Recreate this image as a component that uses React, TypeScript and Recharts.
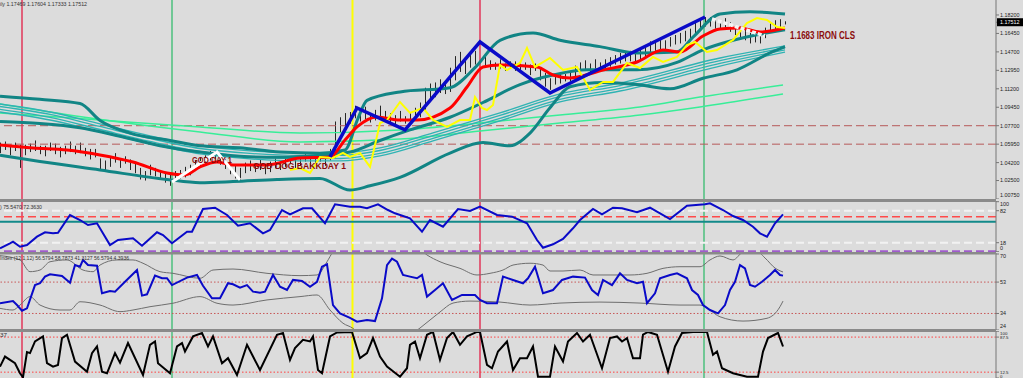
import React from "react";
import {
  ComposedChart,
  Line,
  Bar,
  XAxis,
  YAxis,
  ReferenceLine,
  ReferenceDot,
} from "recharts";

type Pair = [number, number];

// ---------- main window (daily bars) ----------
const candleHigh = [
  1.061, 1.062, 1.059, 1.061, 1.059, 1.059, 1.06, 1.063, 1.058, 1.058,
  1.061, 1.06, 1.057, 1.058, 1.062, 1.058, 1.061, 1.056, 1.055, 1.055,
  1.046, 1.044, 1.047, 1.051, 1.046, 1.048, 1.045, 1.042, 1.037, 1.034,
  1.04, 1.037, 1.035, 1.032, 1.031, 1.034, 1.035, 1.038, 1.04, 1.044,
  1.047, 1.049, 1.053, 1.054, 1.049, 1.045, 1.043, 1.04, 1.037, 1.042,
  1.044, 1.041, 1.045, 1.039, 1.043, 1.046, 1.043, 1.047, 1.048, 1.045,
  1.048, 1.05, 1.047, 1.048, 1.052, 1.046, 1.055, 1.081, 1.085, 1.089,
  1.09, 1.096, 1.091, 1.095, 1.089, 1.092, 1.096, 1.091, 1.089, 1.087,
  1.091, 1.086, 1.089, 1.094, 1.099, 1.113, 1.117, 1.118, 1.121, 1.119,
  1.132, 1.143, 1.147, 1.141, 1.147, 1.148, 1.153, 1.143, 1.139, 1.137,
  1.14, 1.136, 1.138, 1.138, 1.136, 1.137, 1.135, 1.136, 1.132, 1.127,
  1.122, 1.125, 1.126, 1.126, 1.129, 1.134, 1.137, 1.139, 1.136, 1.14,
  1.137, 1.14, 1.142, 1.144, 1.146, 1.146, 1.148, 1.146, 1.15, 1.152,
  1.157, 1.157, 1.16, 1.158, 1.161, 1.163, 1.165, 1.167, 1.169, 1.175,
  1.178, 1.18, 1.18, 1.178, 1.176, 1.179, 1.175, 1.172, 1.171, 1.168,
  1.165, 1.166, 1.162, 1.17, 1.174, 1.177, 1.178, 1.176,
];
const candleLow = [
  1.051, 1.054, 1.049, 1.053, 1.037, 1.049, 1.052, 1.053, 1.05, 1.048,
  1.053, 1.05, 1.047, 1.05, 1.052, 1.05, 1.051, 1.048, 1.045, 1.047,
  1.035, 1.034, 1.038, 1.042, 1.037, 1.041, 1.035, 1.032, 1.026, 1.025,
  1.03, 1.029, 1.026, 1.023, 1.02, 1.025, 1.027, 1.028, 1.03, 1.034,
  1.038, 1.04, 1.044, 1.045, 1.04, 1.036, 1.031, 1.027, 1.024, 1.032,
  1.034, 1.033, 1.035, 1.031, 1.033, 1.037, 1.035, 1.038, 1.041, 1.036,
  1.039, 1.043, 1.038, 1.041, 1.043, 1.039, 1.044, 1.046, 1.07, 1.076,
  1.079, 1.084, 1.081, 1.083, 1.08, 1.082, 1.084, 1.081, 1.08, 1.078,
  1.081, 1.079, 1.08, 1.082, 1.085, 1.09, 1.101, 1.104, 1.108, 1.107,
  1.109, 1.12, 1.128, 1.126, 1.132, 1.135, 1.137, 1.132, 1.13, 1.13,
  1.131, 1.129, 1.131, 1.129, 1.128, 1.13, 1.125, 1.129, 1.12, 1.114,
  1.111, 1.116, 1.117, 1.119, 1.119, 1.122, 1.126, 1.13, 1.127, 1.131,
  1.13, 1.131, 1.133, 1.135, 1.136, 1.138, 1.138, 1.138, 1.14, 1.142,
  1.146, 1.148, 1.149, 1.149, 1.152, 1.154, 1.155, 1.157, 1.159, 1.164,
  1.167, 1.171, 1.171, 1.169, 1.169, 1.17, 1.166, 1.163, 1.161, 1.158,
  1.155, 1.156, 1.155, 1.16, 1.165, 1.168, 1.169, 1.173,
];

const upperBand: Pair[] = [
  [0, 1.105], [8, 1.102], [16, 1.098], [20, 1.082], [26, 1.07], [34, 1.063],
  [40, 1.058], [48, 1.056], [56, 1.052], [64, 1.051], [69, 1.054], [71.6, 1.084],
  [73.4, 1.101], [80, 1.109], [90, 1.113], [95, 1.132], [100, 1.158], [106.6, 1.165],
  [112, 1.158], [120, 1.152], [127.4, 1.146], [135.4, 1.147], [138.6, 1.161],
  [144, 1.183], [150, 1.185], [157, 1.183],
];
const midTeal: Pair[] = [
  [0, 1.081], [8, 1.079], [16, 1.075], [24, 1.067], [32, 1.058], [40, 1.052],
  [48, 1.048], [56, 1.047], [64, 1.049], [70, 1.052], [76, 1.063], [82, 1.073],
  [90, 1.085], [96.6, 1.099], [104, 1.116], [110.6, 1.125], [117.4, 1.13],
  [127.4, 1.13], [135.4, 1.137], [140.6, 1.149], [146.6, 1.158], [157, 1.168],
];
const lowerBand: Pair[] = [
  [0, 1.049], [8, 1.043], [20, 1.035], [33.4, 1.026], [40, 1.023], [46.6, 1.024],
  [55.4, 1.026], [64, 1.027], [70, 1.016], [74, 1.02], [80, 1.028], [90, 1.051],
  [96.6, 1.061], [102, 1.058], [106, 1.07], [110, 1.094], [114, 1.114], [120.6, 1.118],
  [127.4, 1.116], [134, 1.112], [140.6, 1.122], [147.4, 1.13], [154, 1.146], [157, 1.152],
];

// bundle of slow averages
const bundleBars = [0, 10, 20, 30, 40, 50, 60, 68, 76, 86.6, 100, 112, 124, 144, 157];
const maSlow1 = [1.0976, 1.09, 1.0787, 1.0673, 1.0578, 1.0531, 1.0512, 1.0512, 1.0559, 1.0701, 1.0891, 1.1071, 1.1175, 1.1412, 1.1526];
const maSlow2 = [1.0952, 1.0877, 1.0763, 1.0649, 1.0554, 1.0507, 1.0488, 1.0488, 1.0535, 1.0677, 1.0867, 1.1047, 1.1151, 1.1388, 1.1507];
const maSlow3 = [1.0924, 1.0848, 1.0734, 1.0621, 1.0526, 1.0478, 1.0459, 1.0459, 1.0507, 1.0649, 1.0839, 1.1019, 1.1123, 1.136, 1.1488];
const maSlow4 = [1.09, 1.0824, 1.0711, 1.0597, 1.0502, 1.0455, 1.0436, 1.0436, 1.0483, 1.0625, 1.0815, 1.0995, 1.1099, 1.1336, 1.1469];

const greenABars = [0, 20, 40, 60, 80, 96, 112, 128, 140, 156.6];
const greenA = [1.0891, 1.0824, 1.0758, 1.0701, 1.073, 1.0796, 1.0872, 1.0948, 1.1042, 1.1156];
const greenBBars = [0, 16.6, 40, 60, 80, 96, 112, 128, 140, 156.6];
const greenB = [1.0976, 1.0853, 1.0711, 1.0616, 1.0644, 1.072, 1.0796, 1.0872, 1.0948, 1.1071];

const fastMA: Pair[] = [
  [0, 1.0587], [6.6, 1.0559], [13.4, 1.054], [20, 1.0493], [26.6, 1.0426], [33.4, 1.0322],
  [37, 1.0303], [40, 1.0379], [43.4, 1.0426], [46.6, 1.0398], [53.4, 1.0398], [60, 1.0464],
  [66, 1.0474], [69, 1.0635], [71.4, 1.0758], [75.4, 1.0853], [80, 1.0824], [83.4, 1.0824],
  [90, 1.0938], [93.4, 1.1137], [96.6, 1.1327], [100, 1.1346], [107.4, 1.1327],
  [110.6, 1.1251], [114, 1.1223], [120.6, 1.1298], [127.4, 1.1374], [132.6, 1.1488],
  [136, 1.1469], [140.6, 1.1621], [144, 1.1687], [148, 1.1697], [152, 1.1659], [157, 1.1697],
];
const yellowLine: Pair[] = [
  [58, 1.035], [60, 1.0369], [62, 1.0322], [64, 1.0474], [66.6, 1.0464], [68.6, 1.0512],
  [70, 1.0474], [72, 1.0512], [74, 1.0379], [76, 1.0796], [77.4, 1.0824], [80, 1.0995],
  [82, 1.0891], [84.6, 1.0938], [86.6, 1.0824], [89.4, 1.0758], [92, 1.0824], [94, 1.0824],
  [95, 1.1042], [96.4, 1.0938], [97.4, 1.0919], [98.6, 1.0967], [100, 1.1346], [101.4, 1.1298],
  [104, 1.1365], [105.4, 1.1507], [107, 1.1327], [110, 1.1412], [112.6, 1.1298], [115.4, 1.1327],
  [118, 1.1109], [120.6, 1.1185], [122.6, 1.1185], [125.4, 1.1365], [128, 1.1317], [130.6, 1.1422],
  [132.6, 1.1374], [135.4, 1.1422], [137.4, 1.1535], [139, 1.1564], [141.4, 1.1469], [143.4, 1.1488],
  [146.6, 1.1583], [149.4, 1.1744], [151.4, 1.1791], [153.4, 1.1772], [155.4, 1.1706], [157, 1.1697],
];
const zigzagBlue: Pair[] = [[66, 1.0474], [71.4, 1.0938], [81, 1.073], [96, 1.1564], [110, 1.108], [141, 1.1801]];
const zigzagWhite: Pair[] = [[34.4, 1.0237], [43.4, 1.0521], [48, 1.0256]];
const zigzagWhite2: Pair[] = [[142.4, 1.1782], [153, 1.1621]];

const priceTicks = [1.182, 1.1645, 1.147, 1.1295, 1.112, 1.0945, 1.077, 1.0595, 1.042, 1.025, 1.0075];
const lastPrice = 1.17512;
const priceLevels = [1.077, 1.0595];
const markerBars = [4.4, 34.4, 70.5, 96, 140.8];

// ---------- sub windows ----------
const stochLine: Pair[] = [
  [0, 6.8], [2, 16.8], [2.6, 20], [4, 10], [5.4, 13.4], [7.4, 30], [9, 38.8], [10.6, 36.8],
  [11.6, 38], [14, 73.4], [16, 63.4], [17.6, 53.4], [19.4, 56.8], [22, 13.4], [23.6, 23.4],
  [26.6, 26.8], [28.4, 12], [31.4, 38.8], [32.6, 33.4], [34.4, 16.8], [37.4, 40], [38.4, 40],
  [40.6, 85.4], [43, 88], [45.4, 73.4], [47.6, 52], [50, 56.8], [52.6, 36.8], [54, 43.4],
  [56.4, 83.4], [58, 74.8], [60.6, 86.8], [62.4, 86.8], [65, 56.8], [67, 94.8], [70, 90],
  [72, 90], [73.4, 86.8], [75.6, 94.8], [77.6, 83.4], [79, 76.8], [82, 66.8], [84.4, 40],
  [86, 63.4], [88.6, 50], [91.6, 85.4], [94, 81.4], [96, 90], [99.4, 73.4], [102.4, 70],
  [105.4, 56.8], [107.4, 23.4], [108.6, 8], [110.6, 14.8], [112.6, 25.4], [114.6, 46.8],
  [116, 63.4], [118.6, 85.4], [120.4, 74.8], [122.6, 88], [124.4, 86.8], [127.4, 78.8],
  [130, 88], [134, 65.4], [137.4, 92], [141, 94.8], [142, 96.8], [144.6, 83.4], [146.6, 71.4],
  [148.6, 63.4], [150.6, 50], [152, 36.8], [153.4, 30], [155, 56.8], [156.6, 74.8],
];
const stochTicks = [100, 82, 18, 0];

const rsiLine: Pair[] = [
  [0, 40.2], [2.6, 41.5], [3.4, 39.1], [4.4, 35.7], [5.4, 37.1], [7, 51.2], [8, 52.3], [9, 56.3],
  [10, 57.7], [12.4, 56.7], [14, 52.6], [15, 63.3], [16, 62.3], [16.6, 66.4], [17.6, 63.3],
  [19.4, 62.9], [20.4, 46.2], [22, 47.6], [23, 47.2], [25, 53.2], [27.4, 60.3], [28.4, 44.8],
  [29.4, 45.6], [31, 56.9], [32.4, 55.3], [33.4, 55.3], [34.4, 51.2], [37.4, 55.7], [39.4, 57.3],
  [40.6, 50.8], [42.4, 43.2], [44, 43.2], [45.6, 52.3], [46.6, 51.7], [48, 49.6], [49.4, 51.2],
  [50.6, 47.2], [52, 46.6], [53, 47.2], [54.6, 57.3], [56, 50.2], [57.4, 48.2], [58.6, 54.3],
  [60.4, 53.7], [62, 50.2], [63.4, 53.2], [64.4, 62.3], [65.4, 63.8], [66.6, 39.1], [68, 34.1],
  [70, 31.4], [71.4, 29], [73.4, 30], [75, 29.4], [76.4, 43.2], [77.4, 63.3], [78.4, 67.2],
  [79.4, 65.3], [80.6, 57.3], [82, 56.3], [83.4, 55.3], [84.4, 57.3], [85.4, 44.2], [87, 48.2],
  [88.6, 52.3], [90.4, 42.2], [92.4, 45.2], [95, 45.2], [96, 42.2], [97.4, 40.2], [99.4, 40.2],
  [100.6, 56.3], [102.6, 54.3], [104.6, 52.3], [105.6, 55.3], [107, 62.3], [108.6, 46.2],
  [110.6, 48.2], [112.4, 54.3], [114.6, 56.3], [117, 55.7], [118.4, 48.2], [119.6, 45.2],
  [120.6, 54.3], [122.4, 51.2], [124, 58.3], [125.4, 54.3], [127.4, 52.3], [128.6, 53.2],
  [129.4, 40.2], [131, 46.2], [132, 55.3], [134, 57.3], [135.4, 58.3], [137.4, 55.3],
  [138.4, 48.2], [139.6, 45.2], [140.6, 39.1], [142, 36.1], [143.6, 34.1], [145, 39.1],
  [146, 48.2], [147, 53.2], [148, 63.3], [149, 61.3], [150, 51.2], [151, 50.2], [152.4, 53.2],
  [154, 57.3], [155, 60.3], [156, 57.3], [156.6, 56.9],
];
const rsiUpper: Pair[] = [
  [0, 69], [4, 66.4], [6, 59.3], [8, 60.3], [10, 65.3], [13.4, 66.4], [16.6, 60.3], [18.6, 59.3],
  [20, 63.3], [23.4, 66.4], [26.6, 66.4], [28.6, 64.4], [32, 59.3], [34.6, 58.3], [40, 55.3],
  [42.6, 60.3], [46.6, 60.9], [53.4, 58.3], [60, 56.9], [63.4, 57.3], [65.4, 65.3], [66.6, 71.4],
  [68, 75.4], [72, 84.5], [75, 81.5], [77, 72.4], [80, 73.6], [84, 72.4], [85.4, 69.4], [88, 65.3],
  [92, 61.3], [95.4, 57.3], [98, 58.3], [100.6, 60.3], [102.6, 63.3], [106, 64.4], [108.6, 63.3],
  [110, 59.7], [112.6, 59.7], [116, 60.3], [118.6, 57.3], [122.6, 57.3], [126, 57.3], [129.4, 58.3],
  [132.6, 61.3], [136, 62.3], [140, 62.3], [142, 66.4], [144, 68.8], [146.6, 66.4], [148.6, 71.2],
  [151, 72.4], [153, 67.6], [155, 61.5], [156.6, 59.1],
];
const rsiLower: Pair[] = [
  [0, 37.1], [2.6, 36.1], [4, 39.1], [6, 44.2], [8, 39.1], [12, 36.1], [14, 36.1], [16, 41.1],
  [20, 39.1], [24, 35.1], [26.6, 36.1], [30, 38.1], [34.6, 40.2], [40, 44.2], [43.4, 40.2],
  [46.6, 39.1], [53.4, 42.2], [60, 44.2], [63.4, 45.2], [66, 36.1], [68.6, 28.1], [70.6, 25],
  [73, 17.9], [76, 14.9], [79, 17.9], [82, 21], [84, 25.2], [88, 34.9], [90.6, 40.3], [94, 41.5],
  [100, 40.9], [106, 39.1], [112, 40.3], [120, 40.9], [128, 40.3], [136, 39.1], [140, 39.1],
  [144, 32], [148.6, 29.4], [153.4, 31.1], [156, 38.1], [156.6, 41.5],
];
const rsiTicks = [70, 53, 34, 24];
const rsiLevels = [53, 34];

const oscLine: Pair[] = [
  [0, 24.3], [1, 45.8], [3, 31.6], [4, 10.1], [4.6, 1.5], [5.4, 55.3], [6, 53.2], [7, 78.1],
  [8.6, 88.9], [9.4, 31.6], [10.6, 24.3], [11.6, 28], [12.4, 85.4], [13.4, 92.5], [15, 35.1],
  [17.4, 13.5], [18.4, 53.2], [19.4, 67.4], [20.4, 13.5], [21.4, 10.1], [23, 53.2], [24, 32.9],
  [25.6, 74.7], [28.6, 6.4], [30, 71], [31, 78.1], [31.6, 31.6], [34, 10.1], [35.4, 67.4],
  [36.4, 74.7], [37, 56.6], [38.6, 88.9], [40.4, 96.2], [41.6, 67.4], [42.6, 88.9], [44.4, 31.6],
  [45.6, 42.4], [47.4, 6.4], [49.4, 71], [52, 17.2], [55.4, 92.5], [56.6, 96.2], [58, 38.7],
  [59, 63.9], [60.6, 81.8], [62, 78.1], [62.6, 88.9], [63.6, 17.2], [64.4, 10.1], [66, 88.9],
  [67.4, 97.5], [70.4, 98.5], [72, 42.4], [73.4, 53.2], [74.6, 85.4], [76, 45.8], [77.4, 24.3],
  [80, 2.8], [81.4, 20.9], [82, 71], [83, 78.1], [84, 42.4], [85.4, 92.5], [86.6, 98.5],
  [88, 38.7], [89.4, 85.4], [90.6, 98.5], [92, 71], [93.4, 88.9], [95.4, 98.5], [96, 98.5],
  [97.4, 28], [98.4, 20.9], [99.6, 56.6], [101.4, 78.1], [102.6, 17.2], [104, 42.4], [105.4, 42.4],
  [106.6, 67.4], [107.6, 2.8], [110, 2.8], [111, 67.4], [112.6, 35.1], [113.6, 78.1], [115.4, 96.2],
  [116.6, 78.1], [118, 92.5], [120.4, 20.9], [122, 85.4], [123.4, 88.9], [124.4, 78.1], [125.4, 85.4],
  [126.6, 42.4], [128, 42.4], [128.6, 92.5], [129.6, 98.5], [131.4, 92.5], [133.6, 13.5], [135, 67.4],
  [136.4, 96.2], [138.6, 98.5], [141.4, 98.5], [142.6, 49.5], [143.4, 56.6], [144.4, 20.9],
  [146.6, 10.1], [149.4, 2.8], [151.6, 2.8], [152.6, 56.6], [153.6, 85.4], [155.6, 96.2], [156.6, 67.4],
];
const oscTicks = [100, 87.5, 12.5, 0];
const oscLevels = [87.5, 12.5];

// ---------- helpers ----------
const W = 1023;
const X_DOMAIN: [number, number] = [0, 199.2];
const axisFont = "'Liberation Sans', Arial, sans-serif";
const labelFont = "'Liberation Sans Narrow', 'Liberation Sans', Arial, sans-serif";

const pts = (a: Pair[]) => a.map(([x, y]) => ({ x, y }));
const zipPts = (xs: number[], ys: number[]) => xs.map((x, i) => ({ x, y: ys[i] }));

const candles = candleHigh.map((h, i) => ({ x: i, hl: [candleLow[i], h] }));

const markerStyles = [
  { stroke: "#e0607a", w: 2 },
  { stroke: "#4cc07e", w: 1.5 },
  { stroke: "#ffff00", w: 2 },
  { stroke: "#e0607a", w: 2 },
  { stroke: "#4cc07e", w: 1.5 },
];

// tick labels are kept inside their window, like the terminal does
function axisTick(h: number, fmt: (v: number) => string, size = 5.4, pad = 3.5) {
  return (props: any) => {
    const { x, y, payload } = props;
    const v = payload.value as number;
    const cy = Math.min(Math.max(y, pad), h - pad);
    const base = cy + size * 0.36;
    if (v === lastPrice) {
      return (
        <g>
          <rect x={x - 3} y={cy - 4} width={28} height={8} fill="#000" />
          <text x={x} y={base} fontSize={size} fill="#fff" fontFamily={axisFont}>
            {fmt(v)}
          </text>
        </g>
      );
    }
    return (
      <text x={x} y={base} fontSize={size} fill="#222" fontFamily={axisFont}>
        {fmt(v)}
      </text>
    );
  };
}

// thin crisp vertical stroke for each daily bar
const CandleShape = (p: any) => {
  const { x, y, width, height } = p;
  const cx = Math.round(x + width / 2) + 0.5;
  return <line x1={cx} x2={cx} y1={y} y2={y + height} stroke="#262626" strokeWidth={1} />;
};

function markers() {
  return markerBars.map((b, i) => (
    <ReferenceLine
      key={`m${i}`}
      x={b}
      stroke={markerStyles[i].stroke}
      strokeWidth={markerStyles[i].w}
    />
  ));
}

const line = (data: any[], stroke: string, width: number, type: any = "monotone", extra: any = {}) => (
  <Line
    data={data}
    dataKey="y"
    type={type}
    stroke={stroke}
    strokeWidth={width}
    dot={false}
    activeDot={false}
    isAnimationActive={false}
    {...extra}
  />
);

function annotation(text: string, len: number, size: number) {
  return (p: any) => (
    <text
      x={p.cx}
      y={p.cy}
      fontSize={size}
      fontWeight="bold"
      fill="#8b0c0c"
      fontFamily={labelFont}
      textLength={len}
      lengthAdjust="spacingAndGlyphs"
    >
      {text}
    </text>
  );
}

const yAxisCommon = {
  orientation: "right" as const,
  width: 27,
  allowDataOverflow: true,
  interval: 0 as const,
  tickSize: 3,
  tickMargin: 1,
  stroke: "#777",
};

export default function App() {
  const mainH = 199;
  const p2H = 51;
  const p3H = 77;
  const p4H = 47;

  return (
    <div
      style={{
        position: "absolute",
        left: 0,
        top: 0,
        width: W,
        height: 378,
        background: "#dcdcdc",
        overflow: "hidden",
      }}
    >
      {/* main price window */}
      <div style={{ position: "absolute", left: 0, top: 0 }}>
        <ComposedChart width={W} height={mainH} data={candles} margin={{ top: 0, right: 0, bottom: 0, left: 0 }}>
          <XAxis type="number" dataKey="x" domain={X_DOMAIN} hide allowDataOverflow />
          <YAxis
            {...yAxisCommon}
            domain={[1.0075, 1.1962]}
            ticks={[...priceTicks, lastPrice]}
            tick={axisTick(mainH, (v) => v.toFixed(5))}
          />
          {markers()}
          {priceLevels.map((p) => (
            <ReferenceLine key={p} y={p} stroke="#b65a5a" strokeDasharray="8 4" strokeWidth={1} />
          ))}
          {line(zipPts(greenABars, greenA), "#38ee98", 1.5)}
          {line(zipPts(greenBBars, greenB), "#38ee98", 1.5)}
          {line(zipPts(bundleBars, maSlow1), "#2fb3b3", 1.3)}
          {line(zipPts(bundleBars, maSlow2), "#2fb3b3", 1.3)}
          {line(zipPts(bundleBars, maSlow3), "#2fb3b3", 1.3)}
          {line(zipPts(bundleBars, maSlow4), "#2fb3b3", 1.3)}
          {line(pts(upperBand), "#118585", 3)}
          {line(pts(midTeal), "#118585", 3)}
          {line(pts(lowerBand), "#118585", 3)}
          <Bar dataKey="hl" barSize={1} fill="#262626" shape={CandleShape} isAnimationActive={false} />
          {line(pts(fastMA), "#ff0000", 3)}
          {line(pts(yellowLine), "#ffff00", 2, "linear")}
          {line(pts(zigzagWhite), "#ffffff", 3, "linear")}
          {line(pts(zigzagWhite2), "#f4f4f4", 3.5, "linear", { strokeDasharray: "4 2" })}
          {line(pts(zigzagBlue), "#0a0ac8", 3.5, "linear")}
          <ReferenceDot x={158} y={1.1592} r={0} shape={annotation("1.1683 IRON CLS", 65, 11)} />
          <ReferenceDot x={38.4} y={1.0417} r={0} shape={annotation("GOD DAY 1", 40, 9.5)} />
          <ReferenceDot x={50.6} y={1.036} r={0} shape={annotation("GOD DOG BAKKDAY 1", 93, 9.5)} />
        </ComposedChart>
      </div>

      {/* stochastic-type window */}
      <div style={{ position: "absolute", left: 0, top: 201 }}>
        <ComposedChart width={W} height={p2H} margin={{ top: 0, right: 0, bottom: 0, left: 0 }}>
          <XAxis type="number" dataKey="x" domain={X_DOMAIN} hide allowDataOverflow />
          <YAxis {...yAxisCommon} domain={[-0.6, 101.4]} ticks={stochTicks} tick={axisTick(p2H, (v) => String(v))} />
          {markers()}
          <ReferenceLine y={82} stroke="#f2f2f2" strokeWidth={2} strokeDasharray="8 4" />
          <ReferenceLine y={18} stroke="#f2f2f2" strokeWidth={2} strokeDasharray="8 4" />
          <ReferenceLine y={70} stroke="#ff4a4a" strokeWidth={1.5} strokeDasharray="8 4" />
          <ReferenceLine y={60} stroke="#128a8a" strokeWidth={2} />
          <ReferenceLine y={1} stroke="#a05ccc" strokeWidth={2} strokeDasharray="8 4" />
          {line(pts(stochLine), "#0a0ac8", 2, "linear")}
        </ComposedChart>
      </div>

      {/* RSI window with bands */}
      <div style={{ position: "absolute", left: 0, top: 253 }}>
        <ComposedChart width={W} height={p3H} margin={{ top: 0, right: 0, bottom: 0, left: 0 }}>
          <XAxis type="number" dataKey="x" domain={X_DOMAIN} hide allowDataOverflow />
          <YAxis {...yAxisCommon} domain={[24, 70.6]} ticks={rsiTicks} tick={axisTick(p3H, (v) => String(v))} />
          {markers()}
          {rsiLevels.map((l) => (
            <ReferenceLine key={l} y={l} stroke="#c85858" strokeWidth={1} strokeDasharray="1.5 2" />
          ))}
          {line(pts(rsiUpper), "#6e6e6e", 1)}
          {line(pts(rsiLower), "#6e6e6e", 1)}
          {line(pts(rsiLine), "#0a0ac8", 2, "linear")}
        </ComposedChart>
      </div>

      {/* oscillator window */}
      <div style={{ position: "absolute", left: 0, top: 331 }}>
        <ComposedChart width={W} height={p4H} margin={{ top: 0, right: 0, bottom: 0, left: 0 }}>
          <XAxis type="number" dataKey="x" domain={X_DOMAIN} hide allowDataOverflow />
          <YAxis
            {...yAxisCommon}
            domain={[0, 100.5]}
            ticks={oscTicks}
            tick={axisTick(p4H, (v) => String(v), 4.4, 2)}
          />
          {markers()}
          {oscLevels.map((l) => (
            <ReferenceLine key={l} y={l} stroke="#ff4040" strokeWidth={1} strokeDasharray="1.5 2" />
          ))}
          {line(pts(oscLine), "#000000", 2, "linear")}
        </ComposedChart>
      </div>

      {/* window separators and indicator captions */}
      <svg
        width={W}
        height={378}
        style={{ position: "absolute", left: 0, top: 0, pointerEvents: "none" }}
      >
        <rect x={0} y={199} width={996} height={3} fill="#8a8a8a" />
        <rect x={0} y={252} width={996} height={2.5} fill="#8a8a8a" />
        <rect x={0} y={329} width={996} height={3} fill="#8a8a8a" />
        <g fontFamily={axisFont} fontSize={5.5} fill="#333">
          <text x={0} y={6} textLength={87} lengthAdjust="spacingAndGlyphs">
            ily 1.17469 1.17604 1.17333 1.17512
          </text>
          <text x={0} y={208.5} textLength={42} lengthAdjust="spacingAndGlyphs">
            ) 75.5470 72.3630
          </text>
          <text x={0} y={260} textLength={129} lengthAdjust="spacingAndGlyphs">
            Index (12,1,12) 56.5794 58.7873 41.3127 56.5794 4.3936
          </text>
          <text x={0} y={337} textLength={7} lengthAdjust="spacingAndGlyphs">
            37
          </text>
        </g>
      </svg>
    </div>
  );
}
